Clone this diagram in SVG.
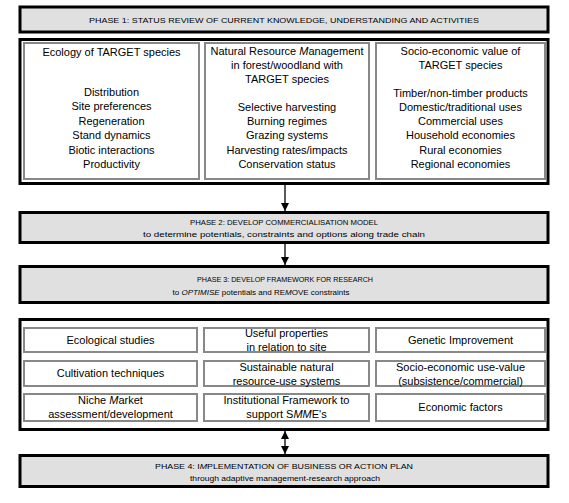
<svg xmlns="http://www.w3.org/2000/svg" width="569" height="503" viewBox="0 0 569 503">
<defs>
<style>
.phase{fill:#e0e0e0;stroke:#000;stroke-width:3}
.grp{fill:#fff;stroke:#000;stroke-width:3}
.cell{fill:#fff;stroke:#888;stroke-width:2}
text{font-family:"Liberation Sans",Arial,sans-serif;fill:#000;text-anchor:middle}
.h{font-size:8px}
.s{font-size:7px}
.t{font-size:11px}
.conn{stroke:#000;stroke-width:1.3;fill:none}
</style>
<marker id="ah" viewBox="0 0 10 10" refX="10" refY="5" markerWidth="8" markerHeight="9" markerUnits="userSpaceOnUse" orient="auto-start-reverse">
<path d="M0,0 L10,5 L0,10 Z" fill="#000"/>
</marker>
</defs>
<rect width="569" height="503" fill="#fff"/>

<g id="phase1">
<rect class="phase" x="20" y="7" width="528" height="25"/>
<text class="h" x="284" y="22.5" textLength="390" lengthAdjust="spacingAndGlyphs">PHASE 1:  STATUS REVIEW OF CURRENT KNOWLEDGE, UNDERSTANDING AND ACTIVITIES</text>
</g>

<g id="phase1-group">
<rect class="grp" x="20" y="39.5" width="528" height="144"/>
<g id="ecology">
<rect class="cell" x="24" y="43" width="175" height="136"/>
<text class="t" x="111.5" y="56">Ecology of TARGET species</text>
<text class="t" x="111.5" y="96">Distribution</text>
<text class="t" x="111.5" y="110">Site preferences</text>
<text class="t" x="111.5" y="125">Regeneration</text>
<text class="t" x="111.5" y="139">Stand dynamics</text>
<text class="t" x="111.5" y="154">Biotic interactions</text>
<text class="t" x="111.5" y="168">Productivity</text>
</g>
<g id="nrm">
<rect class="cell" x="205" y="43" width="164" height="136"/>
<text class="t" x="287" y="55">Natural Resource <tspan font-style="italic">M</tspan>anagement</text>
<text class="t" x="287" y="69">in forest/woodland with</text>
<text class="t" x="287" y="83">TARGET species</text>
<text class="t" x="287" y="111">Selective harvesting</text>
<text class="t" x="287" y="125">Burning regimes</text>
<text class="t" x="287" y="139">Grazing systems</text>
<text class="t" x="287" y="154">Harvesting rates/impacts</text>
<text class="t" x="287" y="168">Conservation status</text>
</g>
<g id="socio">
<rect class="cell" x="376" y="43" width="169" height="136"/>
<text class="t" x="460.5" y="55">Socio-economic value of</text>
<text class="t" x="460.5" y="69">TARGET species</text>
<text class="t" x="460.5" y="97">Timber/non-timber products</text>
<text class="t" x="460.5" y="111">Domestic/traditional uses</text>
<text class="t" x="460.5" y="125">Commercial uses</text>
<text class="t" x="460.5" y="139">Household economies</text>
<text class="t" x="460.5" y="154">Rural economies</text>
<text class="t" x="460.5" y="168">Regional economies</text>
</g>
</g>

<g id="phase2">
<rect class="phase" x="20" y="212.5" width="528" height="30"/>
<text class="s" x="284" y="225" textLength="188" lengthAdjust="spacingAndGlyphs">PHASE 2:  DEVELOP COMMERCIALISATION MODEL</text>
<text class="s" x="284" y="237" textLength="282" lengthAdjust="spacingAndGlyphs">to determine potentials, constraints and options along trade chain</text>
</g>

<g id="phase3">
<rect class="phase" x="20" y="266.5" width="528" height="36"/>
<text class="s" x="285" y="282" textLength="176" lengthAdjust="spacingAndGlyphs">PHASE 3:  DEVELOP FRAMEWORK FOR RESEARCH</text>
<text class="s" x="261" y="295" textLength="177" lengthAdjust="spacingAndGlyphs">to <tspan font-style="italic">OPTIMISE</tspan> potentials and RE<tspan font-style="italic">M</tspan>OVE constraints</text>
</g>

<g id="phase3-group">
<rect class="grp" x="20" y="319.5" width="528" height="110"/>
<g id="c11"><rect class="cell" x="24" y="328" width="173" height="24"/><text class="t" x="110.5" y="344">Ecological studies</text></g>
<g id="c12"><rect class="cell" x="204" y="328" width="165" height="24"/><text class="t" x="286.5" y="337">Useful properties</text><text class="t" x="286.5" y="351">in relation to site</text></g>
<g id="c13"><rect class="cell" x="376" y="328" width="169" height="24"/><text class="t" x="460.5" y="344">Genetic Improvement</text></g>
<g id="c21"><rect class="cell" x="24" y="361" width="173" height="25"/><text class="t" x="110.5" y="377">Cultivation techniques</text></g>
<g id="c22"><rect class="cell" x="204" y="361" width="165" height="25"/><text class="t" x="286.5" y="371">Sustainable natural</text><text class="t" x="286.5" y="385">resource-use systems</text></g>
<g id="c23"><rect class="cell" x="376" y="361" width="169" height="25"/><text class="t" x="460.5" y="371">Socio-economic use-value</text><text class="t" x="460.5" y="385">(subsistence/commercial)</text></g>
<g id="c31"><rect class="cell" x="24" y="394" width="173" height="27"/><text class="t" x="110.5" y="404">Niche <tspan font-style="italic">M</tspan>arket</text><text class="t" x="110.5" y="418">assessment/development</text></g>
<g id="c32"><rect class="cell" x="204" y="394" width="165" height="27"/><text class="t" x="286.5" y="404">Institutional Framework to</text><text class="t" x="286.5" y="418">support S<tspan font-style="italic">MM</tspan>E's</text></g>
<g id="c33"><rect class="cell" x="376" y="394" width="169" height="27"/><text class="t" x="460.5" y="411">Economic factors</text></g>
</g>

<g id="phase4">
<rect class="phase" x="20" y="455.5" width="528" height="31"/>
<text class="s" x="284" y="469" textLength="258" lengthAdjust="spacingAndGlyphs">PHASE 4:  I<tspan font-style="italic">M</tspan>PLEMENTATION OF BUSINESS OR ACTION PLAN</text>
<text class="s" x="285" y="481" font-size="6.5px" textLength="190" lengthAdjust="spacingAndGlyphs">through adaptive management-research approach</text>
</g>

<g id="connectors">
<line class="conn" x1="285" y1="185" x2="285" y2="211" marker-end="url(#ah)"/>
<line class="conn" x1="285" y1="244" x2="285" y2="265" marker-end="url(#ah)"/>
<line class="conn" x1="285" y1="431" x2="285" y2="454" marker-start="url(#ah)" marker-end="url(#ah)"/>
</g>
</svg>
